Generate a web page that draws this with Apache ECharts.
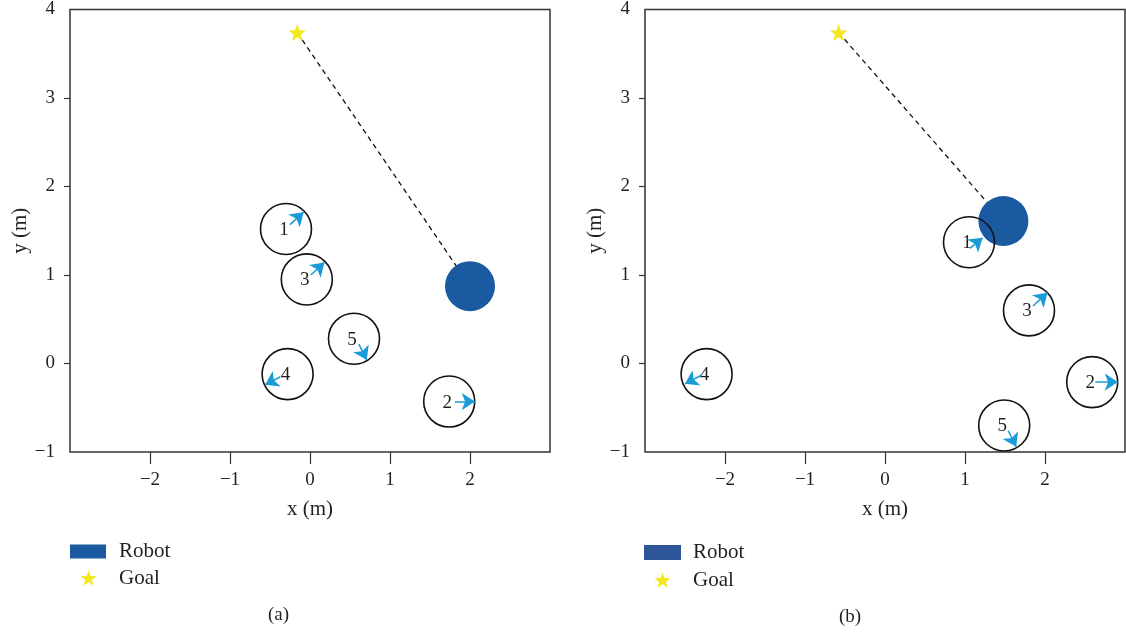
<!DOCTYPE html>
<html><head><meta charset="utf-8">
<script src="https://cdn.jsdelivr.net/npm/echarts@6/dist/echarts.min.js"></script>
<style>html,body{margin:0;padding:0;background:#fff}#c{width:1126px;height:635px}</style>
</head><body><div id="c"></div>
<script>
// ---- data ----
const xTickValues = [-2, -1, 0, 1, 2];
const yTickValues = [0, 1, 2, 3];
const yLabelValues = [-1, 0, 1, 2, 3, 4];
const obstacleIds = ['1', '2', '3', '4', '5'];

// panel (a)
const goalA = [-0.16, 3.74];
const robotA = [2.0, 0.874];
const obstaclesA = [[-0.30, 1.52], [1.74, -0.43], [-0.04, 0.95], [-0.28, -0.12], [0.55, 0.28]];
const arrowStartA = [[-0.25, 1.57], [1.81, -0.43], [0.01, 1.00], [-0.37, -0.15], [0.61, 0.22]];
const arrowEndA = [[-0.08, 1.71], [2.06, -0.43], [0.18, 1.14], [-0.56, -0.24], [0.71, 0.04]];

// panel (b)
const goalB = [-0.58, 3.74];
const robotB = [1.48, 1.61];
const obstaclesB = [[1.05, 1.37], [2.59, -0.21], [1.80, 0.60], [-2.23, -0.12], [1.49, -0.70]];
const arrowStartB = [[1.06, 1.30], [2.63, -0.21], [1.85, 0.65], [-2.29, -0.13], [1.54, -0.76]];
const arrowEndB = [[1.22, 1.42], [2.91, -0.21], [2.03, 0.80], [-2.50, -0.23], [1.64, -0.94]];

// ---- styles ----
const FONT = 'Liberation Serif';
const TXT = '#231f20';
const ROBOT_COLOR = '#1a5aa0';
const GOAL_COLOR = '#f3e81c';
const ARROW_COLOR = '#1a9bd7';

function starPath() {
  let d = '';
  for (let i = 0; i < 10; i++) {
    const r = i % 2 === 0 ? 50 : 21;
    const a = -Math.PI / 2 + i * Math.PI / 5;
    const px = (50 + r * Math.cos(a)).toFixed(2);
    const py = (50 + r * Math.sin(a)).toFixed(2);
    d += (i === 0 ? 'M' : 'L') + px + ' ' + py;
  }
  return 'path://' + d + 'Z';
}
const STAR = starPath();
const minus = v => String(v).replace('-', '\u2212');

function axes(idx) {
  return {
    x: {
      type: 'value', gridIndex: idx, min: -3, max: 3, interval: 1,
      splitLine: { show: false },
      axisLine: { show: false, onZero: false },
      axisTick: { show: true, length: 12, customValues: xTickValues, lineStyle: { color: '#333', width: 1.2 } },
      axisLabel: { customValues: xTickValues, margin: 19, formatter: minus, fontFamily: FONT, fontSize: 19, color: TXT },
      name: 'x (m)', nameLocation: 'middle', nameGap: 47,
      nameTextStyle: { fontFamily: FONT, fontSize: 21, color: TXT }
    },
    y: {
      type: 'value', gridIndex: idx, min: -1, max: 4, interval: 1,
      splitLine: { show: false },
      axisLine: { show: false, onZero: false },
      axisTick: { show: true, length: 6, customValues: yTickValues, lineStyle: { color: '#333', width: 1.2 } },
      axisLabel: { customValues: yLabelValues, margin: 15, formatter: minus, fontFamily: FONT, fontSize: 19, color: TXT },
      name: 'y (m)', nameLocation: 'middle', nameGap: 39,
      nameTextStyle: { fontFamily: FONT, fontSize: 21, color: TXT }
    }
  };
}

function panelSeries(idx, goal, robot, obstacles, aStart, aEnd) {
  return [
    {
      type: 'line', xAxisIndex: idx, yAxisIndex: idx, z: 1,
      data: [goal, robot], symbol: 'none', silent: true,
      lineStyle: { color: '#111', width: 1.3, type: [5, 4] }
    },
    {
      name: 'Robot', type: 'scatter', xAxisIndex: idx, yAxisIndex: idx, z: 2,
      data: [robot], symbol: 'circle', symbolSize: 50,
      itemStyle: { color: ROBOT_COLOR, opacity: 1 }
    },
    {
      type: 'scatter', xAxisIndex: idx, yAxisIndex: idx, z: 3,
      data: obstacles.map((p, i) => ({ value: p, name: obstacleIds[i] })),
      symbol: 'circle', symbolSize: 51,
      itemStyle: { color: 'rgba(0,0,0,0)', borderColor: '#111', borderWidth: 1.6, opacity: 1 },
      label: { show: true, position: 'inside', formatter: '{b}', offset: [-2, 1], fontFamily: FONT, fontSize: 19, color: TXT }
    },
    {
      type: 'lines', coordinateSystem: 'cartesian2d', xAxisIndex: idx, yAxisIndex: idx, z: 4,
      data: aStart.map((s, i) => ({ coords: [s, aEnd[i]] })),
      symbol: ['none', 'arrow'], symbolSize: 13,
      lineStyle: { color: ARROW_COLOR, width: 1.6, opacity: 1, curveness: 0 }
    },
    {
      name: 'Goal', type: 'scatter', xAxisIndex: idx, yAxisIndex: idx, z: 5,
      data: [goal], symbol: STAR, symbolSize: 17,
      itemStyle: { color: GOAL_COLOR, opacity: 1 }
    }
  ];
}

const axA = axes(0), axB = axes(1);
const legendText = pad => ({ fontFamily: FONT, fontSize: 21, color: TXT, padding: [0, 0, 0, pad] });

const option = {
  animation: false,
  backgroundColor: '#fff',
  title: [
    { text: '(a)', left: 268, top: 606, padding: 0, textStyle: { fontFamily: FONT, fontSize: 19, fontWeight: 'normal', color: TXT } },
    { text: '(b)', left: 839, top: 608, padding: 0, textStyle: { fontFamily: FONT, fontSize: 19, fontWeight: 'normal', color: TXT } }
  ],
  grid: [
    { left: 70, top: 9, width: 480, height: 443, show: true, borderColor: '#333', borderWidth: 1.5, backgroundColor: 'transparent' },
    { left: 645, top: 9, width: 480, height: 443, show: true, borderColor: '#333', borderWidth: 1.5, backgroundColor: 'transparent' }
  ],
  xAxis: [axA.x, axB.x],
  yAxis: [axA.y, axB.y],
  legend: [
    { left: 70, top: 541, padding: 0, selectedMode: false, itemWidth: 36, itemHeight: 14,
      data: [{ name: 'Robot', icon: 'rect', itemStyle: { color: ROBOT_COLOR } }], textStyle: legendText(8) },
    { left: 80.5, top: 567.5, padding: 0, selectedMode: false, itemWidth: 16, itemHeight: 16,
      data: [{ name: 'Goal', icon: STAR, itemStyle: { color: GOAL_COLOR } }], textStyle: legendText(17.5) },
    { left: 644, top: 542, padding: 0, selectedMode: false, itemWidth: 37, itemHeight: 15,
      data: [{ name: 'Robot', icon: 'rect', itemStyle: { color: '#2e5597' } }], textStyle: legendText(7) },
    { left: 654.5, top: 569.5, padding: 0, selectedMode: false, itemWidth: 16, itemHeight: 16,
      data: [{ name: 'Goal', icon: STAR, itemStyle: { color: GOAL_COLOR } }], textStyle: legendText(17.5) }
  ],
  series: [
    ...panelSeries(0, goalA, robotA, obstaclesA, arrowStartA, arrowEndA),
    ...panelSeries(1, goalB, robotB, obstaclesB, arrowStartB, arrowEndB)
  ]
};

const chart = echarts.init(document.getElementById('c'), null, { renderer: 'canvas' });
chart.setOption(option);
</script>
</body></html>
